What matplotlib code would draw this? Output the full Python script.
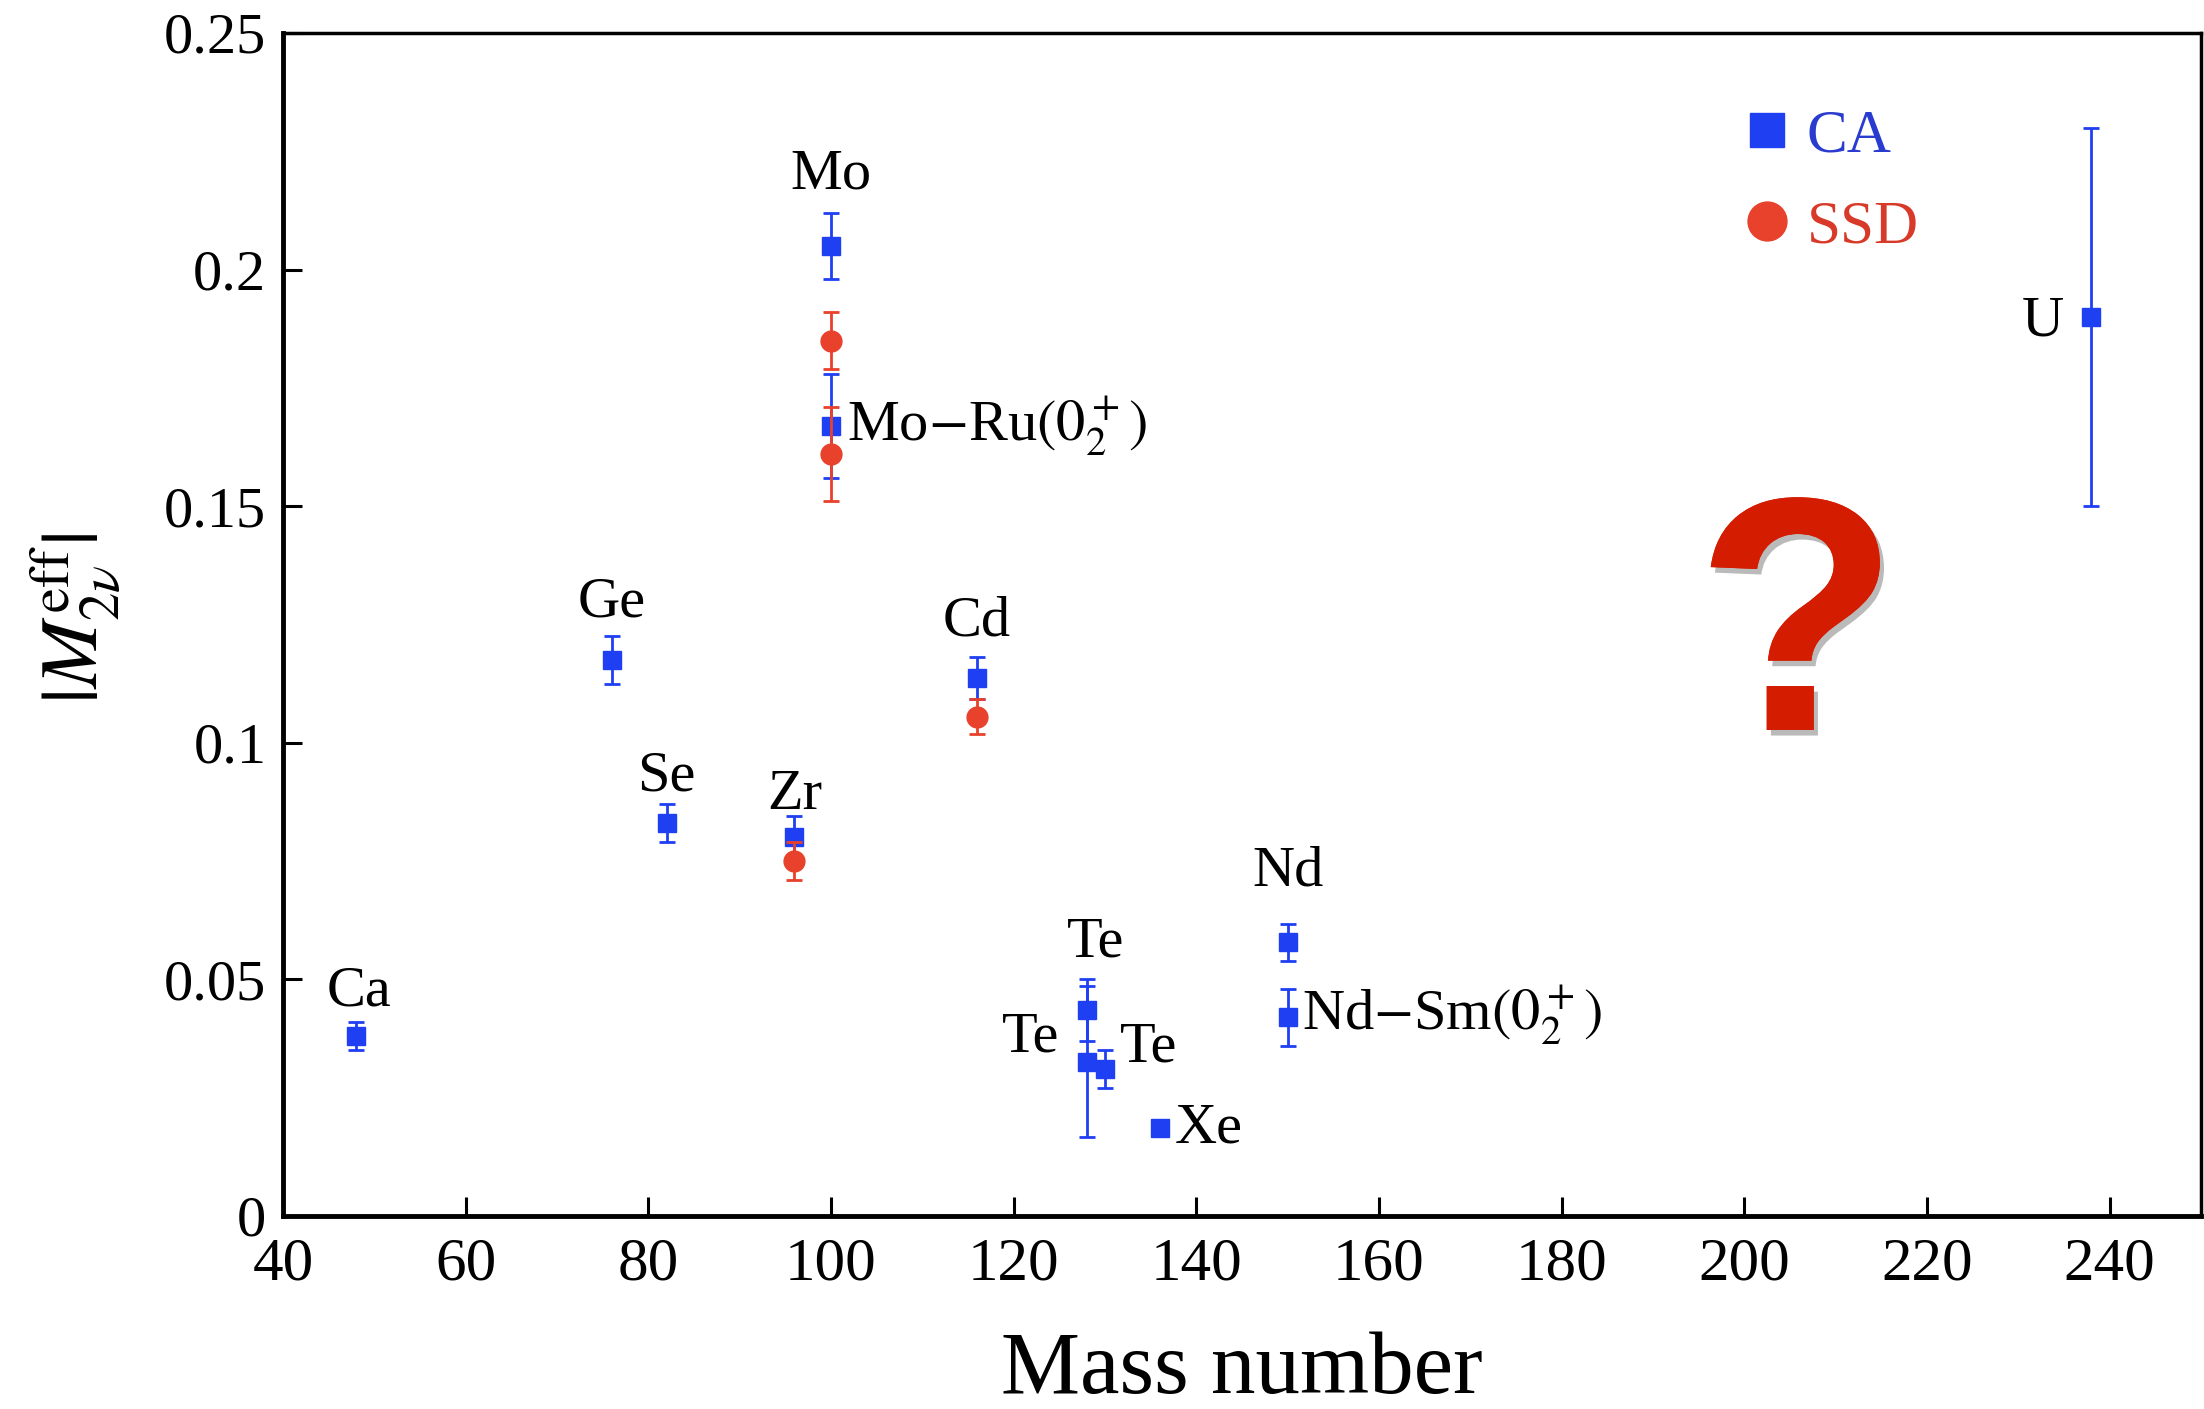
import matplotlib
matplotlib.use('Agg')
import matplotlib.pyplot as plt
import matplotlib.patheffects as pe
from matplotlib.lines import Line2D

plt.rcParams['font.family'] = ['Liberation Serif', 'DejaVu Serif']
plt.rcParams['mathtext.fontset'] = 'stix'

blue = '#1f3ff2'
red = '#e8412c'

# CA results: mass number, |M_2nu^eff| and error
ca_mass = [48, 76, 82, 96, 100, 100, 116, 128, 128, 130, 136, 150, 150, 238]
ca_val = [0.038, 0.1175, 0.083, 0.080, 0.205, 0.167, 0.1137, 0.0435, 0.0326,
          0.031, 0.0186, 0.0578, 0.042, 0.19]
ca_err = [0.003, 0.005, 0.004, 0.0045, 0.007, 0.011, 0.0045, 0.0065, 0.016,
          0.004, 0.0005, 0.004, 0.006, 0.04]

# SSD results
ssd_mass = [96, 100, 100, 116]
ssd_val = [0.075, 0.185, 0.161, 0.1055]
ssd_err = [0.004, 0.006, 0.010, 0.0037]

# nucleus labels
label_text = ['Ca', 'Ge', 'Se', 'Zr', 'Mo', r'Mo$-$Ru$(0_2^+)$', 'Cd', 'Te',
              'Te', 'Te', 'Xe', 'Nd', r'Nd$-$Sm$(0_2^+)$', 'U']
label_x = [48.3, 76, 82, 96, 100, 101.8, 116, 129.0, 125.0, 131.6, 137.6,
           150, 151.6, 235.0]
label_y = [0.0474, 0.1296, 0.0928, 0.089, 0.220, 0.167, 0.1257, 0.0578,
           0.0377, 0.0356, 0.0184, 0.0727, 0.0424, 0.189]
label_ha = ['center', 'center', 'center', 'center', 'center', 'left', 'center',
            'center', 'right', 'left', 'left', 'center', 'left', 'right']

fig = plt.figure(figsize=(22.04, 14.09), dpi=100)
ax = fig.add_axes([0.1284, 0.137, 0.8702, 0.8396])

ax.errorbar(ca_mass, ca_val, yerr=ca_err, fmt='s', color=blue, ms=13,
            elinewidth=2, capsize=6, capthick=2, zorder=3)
ax.errorbar(ssd_mass, ssd_val, yerr=ssd_err, fmt='o', color=red, ms=15,
            elinewidth=2, capsize=6, capthick=2, zorder=4)

for t, x, y, ha in zip(label_text, label_x, label_y, label_ha):
    ax.text(x, y, t, ha=ha, va='center', fontsize=42, color='black')

# big question mark over the empty heavy-nucleus region
ax.text(205.8, 0.1027, '?', ha='center', va='baseline', fontsize=240,
        fontweight='bold', family='Liberation Sans', color='#d41c00',
        path_effects=[pe.withSimplePatchShadow(offset=(3, -4),
                                               shadow_rgbFace='#666666',
                                               alpha=0.45),
                      pe.Normal()])

handles = [Line2D([], [], ls='none', marker='s', ms=25, color=blue),
           Line2D([], [], ls='none', marker='o', ms=28, color=red)]
ax.legend(handles, ['CA', 'SSD'], loc='upper left',
          bbox_to_anchor=(0.745, 0.962), frameon=False, fontsize=44,
          handlelength=0.8, handletextpad=0.25, borderpad=0,
          labelspacing=0.58, labelcolor=['#2a3bd0', '#d83a2a'])

ax.set_xlim(40, 250)
ax.set_ylim(0, 0.25)
ax.set_xticks(range(40, 241, 20))
ax.set_yticks([0, 0.05, 0.1, 0.15, 0.2, 0.25])
ax.set_yticklabels(['0', '0.05', '0.1', '0.15', '0.2', '0.25'])
ax.tick_params(axis='both', direction='in', length=14, width=2.2)
ax.tick_params(axis='y', labelsize=42, pad=12)
ax.tick_params(axis='x', labelsize=44, pad=15)

for side in ['left', 'bottom']:
    ax.spines[side].set_linewidth(3.5)
for side in ['top', 'right']:
    ax.spines[side].set_linewidth(2.5)

ax.set_xlabel('Mass number', fontsize=64)
ax.xaxis.set_label_coords(0.5, -0.097)
ax.set_ylabel(r'$|M_{2\nu}^{\mathrm{eff}}|$', fontsize=58)
ax.yaxis.set_label_coords(-0.083, 0.505)

fig.savefig('out.png', dpi=100)
